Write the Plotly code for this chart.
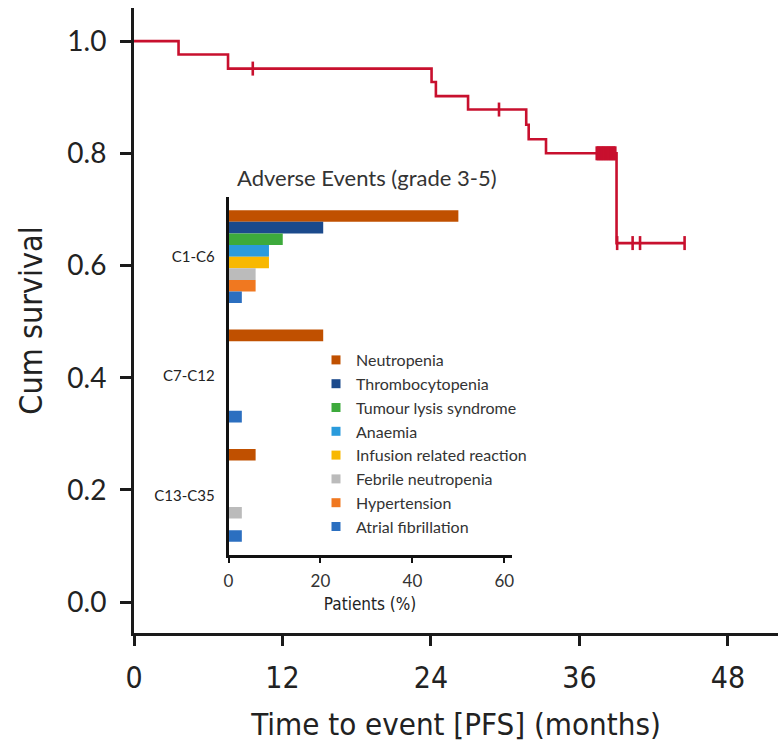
import plotly.graph_objects as go

# ---- Kaplan-Meier progression-free survival ----
# step points: time (months) and survival after each event
km_time = [0, 3.6, 7.6, 24.05, 24.4, 27.0, 31.7, 31.9, 33.3, 39.0, 44.5]
km_surv = [1.0, 0.976, 0.951, 0.927, 0.902, 0.878, 0.851, 0.825, 0.800, 0.640, 0.640]

# censored observations (months)
censor_time = [9.6, 29.5,
               37.4, 37.5, 37.6, 37.7, 37.8, 37.9, 38.0, 38.1,
               38.2, 38.3, 38.4, 38.5, 38.6, 38.7, 38.8, 38.9,
               39.05, 40.3, 40.9, 44.5]

x_ticks = [0, 12, 24, 36, 48]
y_ticks = [0.0, 0.2, 0.4, 0.6, 0.8, 1.0]

# ---- Adverse events (grade 3-5), % of patients per cycle block ----
cycles = ["C1-C6", "C7-C12", "C13-C35"]
ae_names = ["Neutropenia", "Thrombocytopenia", "Tumour lysis syndrome", "Anaemia",
            "Infusion related reaction", "Febrile neutropenia", "Hypertension",
            "Atrial fibrillation"]
neutropenia = [50.0, 20.6, 5.9]
thrombocytopenia = [20.6, None, None]
tumour_lysis = [11.8, None, None]
anaemia = [8.8, None, None]
infusion_reaction = [8.8, None, None]
febrile_neutropenia = [5.9, None, 2.9]
hypertension = [5.9, None, None]
atrial_fibrillation = [2.9, 2.9, 2.9]
ae_values = [neutropenia, thrombocytopenia, tumour_lysis, anaemia,
             infusion_reaction, febrile_neutropenia, hypertension, atrial_fibrillation]
ae_colors = ["#C05000", "#1B4A8C", "#3DAA3C", "#2A9BDC",
             "#F8B800", "#BBBBBB", "#F07820", "#2B6FC0"]
inset_ticks = [0, 20, 40, 60]


def surv_at(t):
    s = km_surv[0]
    for tt, ss in zip(km_time, km_surv):
        if tt <= t:
            s = ss
    return s


KM_RED = "#C8102E"
NARROW = "Liberation Sans Narrow, DejaVu Sans Condensed, Arial Narrow, sans-serif"
ROUND = "Lato, Open Sans, sans-serif"

fig = go.Figure()

fig.add_trace(go.Scatter(
    x=km_time, y=km_surv, mode="lines", line=dict(shape="hv", color=KM_RED, width=2.6),
    showlegend=False, hoverinfo="skip", xaxis="x", yaxis="y"))

fig.add_trace(go.Scatter(
    x=censor_time, y=[surv_at(t) for t in censor_time], mode="markers",
    marker=dict(symbol="line-ns", size=10, line=dict(color=KM_RED, width=2.6)),
    showlegend=False, hoverinfo="skip", xaxis="x", yaxis="y"))

for name, vals, col in zip(ae_names, ae_values, ae_colors):
    fig.add_trace(go.Bar(
        y=cycles, x=vals, orientation="h", name=name, marker=dict(color=col, line=dict(width=0)),
        showlegend=False, xaxis="x2", yaxis="y2"))
    # square legend key
    fig.add_trace(go.Scatter(
        x=[None], y=[None], mode="markers", name=name,
        marker=dict(symbol="square", size=9, color=col),
        xaxis="x2", yaxis="y2"))

W, H = 778, 746

fig.update_layout(
    width=W, height=H,
    margin=dict(l=0, r=0, t=0, b=0),
    paper_bgcolor="white", plot_bgcolor="white",
    barmode="group", bargap=0.222, bargroupgap=0.0,
    showlegend=True,
    legend=dict(
        x=316 / W, y=(H - 343) / H, xanchor="left", yanchor="top",
        bgcolor="rgba(0,0,0,0)", borderwidth=0, itemwidth=30,
        font=dict(family=ROUND, size=16, color="#333333"),
        traceorder="normal"),
    xaxis=dict(
        domain=[134 / W, 1.0], range=[0, 52.05], tickvals=x_ticks,
        showgrid=False, zeroline=False, showline=True, linecolor="#1a1a1a", linewidth=3,
        ticks="outside", ticklen=10, tickwidth=3, tickcolor="#1a1a1a",
        tickfont=dict(family=NARROW, size=30, color="#222222"), ticklabelstandoff=6,
        title=dict(text="Time to event [PFS] (months)", standoff=20,
                   font=dict(family=NARROW, size=31, color="#222222")),
        automargin=False, anchor="y"),
    yaxis=dict(
        domain=[(H - 633) / H, (H - 8) / H], range=[-0.055, 1.059], tickvals=y_ticks,
        tickformat=".1f",
        showgrid=False, zeroline=False, showline=True, linecolor="#1a1a1a", linewidth=3,
        ticks="outside", ticklen=11, tickwidth=3, tickcolor="#1a1a1a",
        tickfont=dict(family=ROUND, size=28, color="#222222"), ticklabelstandoff=8,
        title=dict(text="Cum survival", standoff=16,
                   font=dict(family=NARROW, size=32, color="#222222")),
        automargin=False, anchor="x"),
    xaxis2=dict(
        domain=[228.5 / W, 511.7 / W], range=[0, 61.6], tickvals=inset_ticks,
        showgrid=False, zeroline=False, showline=True, linecolor="#111111", linewidth=2.5,
        ticks="outside", ticklen=5, tickwidth=2, tickcolor="#111111",
        tickfont=dict(family=ROUND, size=17, color="#333333"), ticklabelstandoff=4,
        title=dict(text="Patients (%)", standoff=8,
                   font=dict(family=NARROW, size=17, color="#222222")),
        automargin=False, anchor="y2"),
    yaxis2=dict(
        domain=[(H - 555) / H, (H - 197) / H], type="category",
        categoryorder="array", categoryarray=cycles, range=[2.5, -0.5],
        showgrid=False, zeroline=False, showline=True, linecolor="#111111", linewidth=2.5,
        ticks="", tickfont=dict(family=ROUND, size=15, color="#222222"), ticklabelstandoff=8,
        automargin=False, anchor="x2"),
    annotations=[dict(
        text="Adverse Events (grade 3-5)", xref="paper", yref="paper",
        x=367 / W, y=(H - 177) / H, xanchor="center", yanchor="middle", showarrow=False,
        font=dict(family=ROUND, size=22, color="#333333"))],
)

fig.write_html("out.html")
